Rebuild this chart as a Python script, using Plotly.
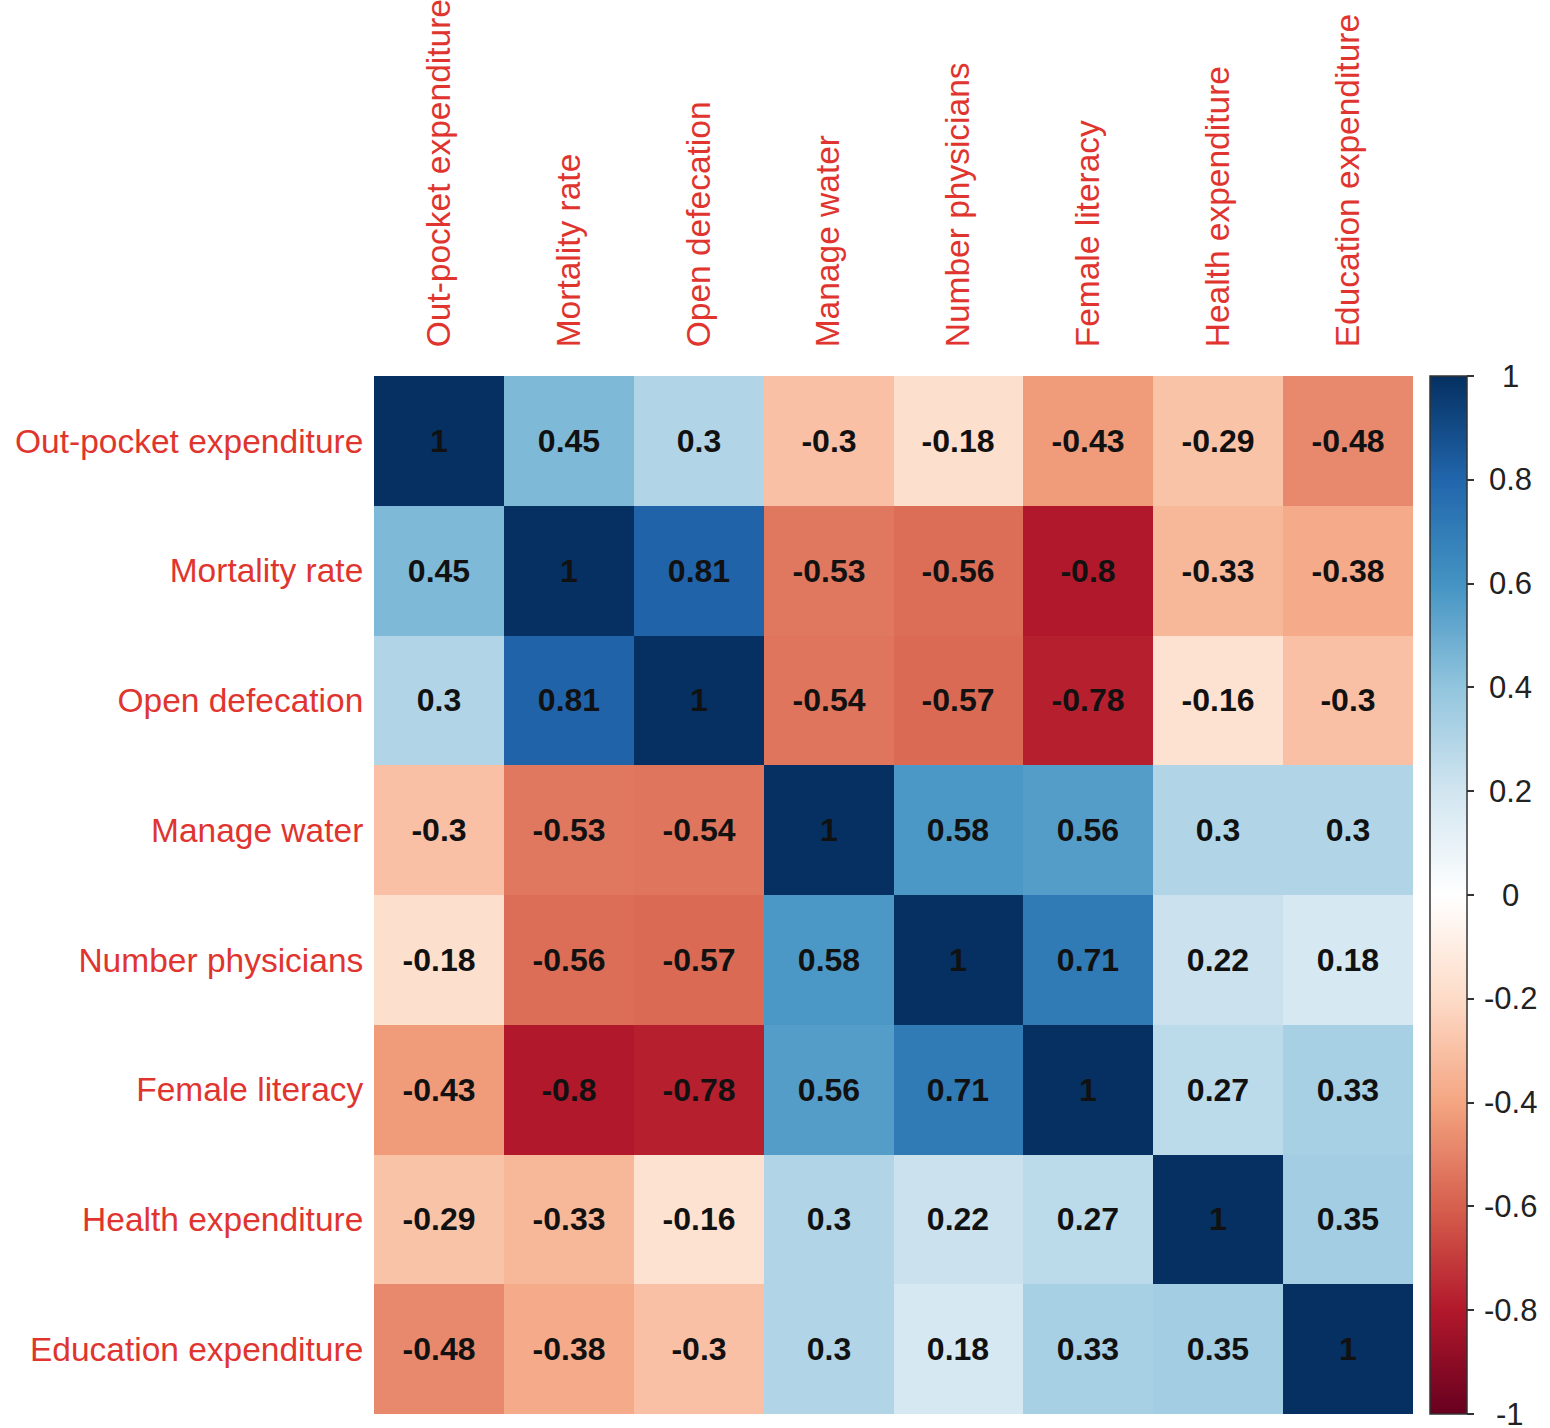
import plotly.graph_objects as go

# Variables in the correlation matrix (rows top to bottom, columns left to right)
variables = [
    "Out-pocket expenditure",
    "Mortality rate",
    "Open defecation",
    "Manage water",
    "Number physicians",
    "Female literacy",
    "Health expenditure",
    "Education expenditure",
]

# Pearson correlation coefficients, one list per row
r_outpocket = [1, 0.45, 0.3, -0.3, -0.18, -0.43, -0.29, -0.48]
r_mortality = [0.45, 1, 0.81, -0.53, -0.56, -0.8, -0.33, -0.38]
r_defecation = [0.3, 0.81, 1, -0.54, -0.57, -0.78, -0.16, -0.3]
r_water = [-0.3, -0.53, -0.54, 1, 0.58, 0.56, 0.3, 0.3]
r_physicians = [-0.18, -0.56, -0.57, 0.58, 1, 0.71, 0.22, 0.18]
r_literacy = [-0.43, -0.8, -0.78, 0.56, 0.71, 1, 0.27, 0.33]
r_health = [-0.29, -0.33, -0.16, 0.3, 0.22, 0.27, 1, 0.35]
r_education = [-0.48, -0.38, -0.3, 0.3, 0.18, 0.33, 0.35, 1]

corr = [r_outpocket, r_mortality, r_defecation, r_water,
        r_physicians, r_literacy, r_health, r_education]

# Colour bar ticks
cbar_ticks = [1, 0.8, 0.6, 0.4, 0.2, 0, -0.2, -0.4, -0.6, -0.8, -1]


def fmt(v):
    s = f"{v:.2f}".rstrip("0").rstrip(".")
    return "0" if s in ("-0", "") else s


labels = [[fmt(v) for v in row] for row in corr]

# Diverging red-blue palette (negative = red, positive = blue)
rdbu = ["#67001F", "#B2182B", "#D6604D", "#F4A582", "#FDDBC7", "#FFFFFF",
        "#D1E5F0", "#92C5DE", "#4393C3", "#2166AC", "#053061"]
colorscale = [[i / (len(rdbu) - 1), c] for i, c in enumerate(rdbu)]

FONT = "Liberation Sans, Arial, sans-serif"
LABEL_RED = "#e0352f"

# Plot-area geometry in pixels
W, H = 1550, 1428
ML, MR, MT, MB = 374, 137, 376, 14
PW = W - ML - MR

fig = go.Figure(
    go.Heatmap(
        z=corr,
        x=variables,
        y=variables,
        text=labels,
        texttemplate="%{text}",
        textfont=dict(family=FONT, size=32, color="#111111", weight="bold"),
        colorscale=colorscale,
        zmin=-1,
        zmax=1,
        hoverinfo="skip",
        colorbar=dict(
            x=1 + 17 / PW,
            xanchor="left",
            xpad=0,
            ypad=0,
            y=0.5,
            yanchor="middle",
            len=1,
            lenmode="fraction",
            thickness=37,
            thicknessmode="pixels",
            outlinewidth=1.5,
            outlinecolor="#333333",
            tickmode="array",
            tickvals=cbar_ticks,
            ticktext=["" for _ in cbar_ticks],
            ticks="outside",
            ticklen=7,
            tickwidth=1.5,
            tickcolor="#333333",
        ),
    )
)

# Colour bar tick labels, centred in the column to the right of the bar
for t in cbar_ticks:
    fig.add_annotation(
        x=1 + (1510 - ML - PW) / PW,
        xref="paper",
        y=(t + 1) / 2,
        yref="paper",
        text=fmt(t),
        showarrow=False,
        xanchor="center",
        yanchor="middle",
        font=dict(family=FONT, size=31, color="#222222"),
    )

fig.update_xaxes(
    side="top",
    tickangle=-90,
    tickfont=dict(family=FONT, size=33.5, color=LABEL_RED),
    ticks="outside",
    ticklen=21,
    tickcolor="rgba(0,0,0,0)",
    showgrid=False,
    zeroline=False,
    showline=False,
)
fig.update_yaxes(
    autorange="reversed",
    tickfont=dict(family=FONT, size=33.5, color=LABEL_RED),
    ticks="outside",
    ticklen=3,
    tickcolor="rgba(0,0,0,0)",
    showgrid=False,
    zeroline=False,
    showline=False,
)

fig.update_layout(
    width=W,
    height=H,
    margin=dict(l=ML, r=MR, t=MT, b=MB, autoexpand=False),
    paper_bgcolor="white",
    plot_bgcolor="white",
)

fig.write_html("out.html")
